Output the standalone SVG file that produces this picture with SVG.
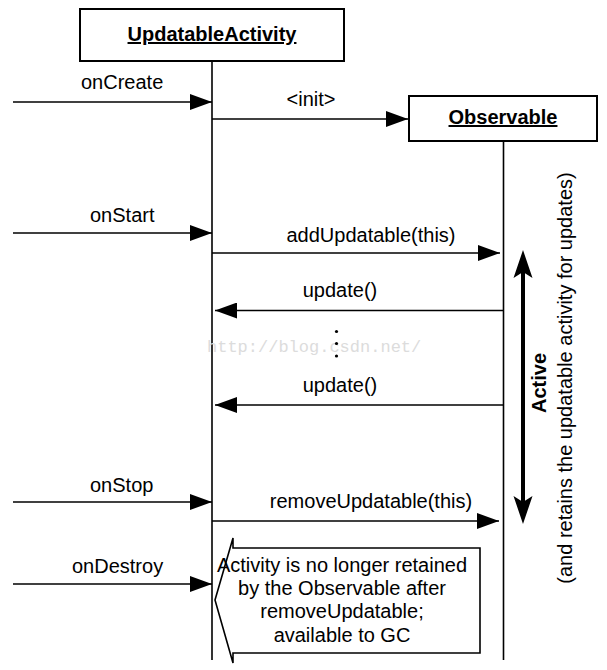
<svg xmlns="http://www.w3.org/2000/svg" width="607" height="670" viewBox="0 0 607 670">
<style>
text{font-family:"Liberation Sans",Arial,sans-serif;font-size:20px;fill:#000}
.t{font-weight:bold;text-decoration:underline}
.c{text-anchor:middle}
.box{fill:#fff;stroke:#000;stroke-width:2}
.life{stroke:#000;stroke-width:1.6;fill:none}
.msg{stroke:#000;stroke-width:1.6;fill:none;marker-end:url(#ah)}
.wm{font-family:"Liberation Mono",monospace;font-size:17px;fill:#dcdcdc}
</style>
<defs>
<marker id="ah" markerUnits="userSpaceOnUse" markerWidth="22" markerHeight="16" refX="22" refY="8" orient="auto">
<path d="M0,0 L22,8 L0,16 Z" fill="#000"/>
</marker>
</defs>
<rect width="607" height="670" fill="#fff"/>
<g id="activity">
<rect class="box" x="80" y="9" width="264" height="52"/>
<text class="t c" x="212" y="41">UpdatableActivity</text>
<line class="life" x1="212" y1="61" x2="212" y2="660"/>
</g>
<g id="observable">
<rect class="box" x="409" y="96" width="188" height="45"/>
<text class="t c" x="503" y="124">Observable</text>
<line class="life" x1="503.5" y1="141" x2="503.5" y2="660"/>
</g>
<text class="wm" x="207" y="352">http://blog.csdn.net/</text>
<g id="connectors">
<line class="msg" x1="13" y1="102" x2="212" y2="102"/>
<line class="msg" x1="212" y1="119" x2="408" y2="119"/>
<line class="msg" x1="13" y1="233" x2="212" y2="233"/>
<line class="msg" x1="212" y1="253" x2="500" y2="253"/>
<line class="msg" x1="503" y1="310.5" x2="215" y2="310.5"/>
<line class="msg" x1="503" y1="405" x2="215" y2="405"/>
<line class="msg" x1="13" y1="502" x2="212" y2="502"/>
<line class="msg" x1="212" y1="521" x2="499" y2="521"/>
<line class="msg" x1="13" y1="584" x2="212" y2="584"/>
</g>
<g id="labels">
<text x="81" y="89">onCreate</text>
<text class="c" x="311" y="106">&lt;init&gt;</text>
<text x="90" y="222">onStart</text>
<text class="c" x="371" y="242">addUpdatable(this)</text>
<text class="c" x="340" y="297">update()</text>
<text class="c" x="340" y="392">update()</text>
<text x="90" y="492">onStop</text>
<text class="c" x="371" y="508">removeUpdatable(this)</text>
<text x="72" y="573">onDestroy</text>
</g>
<g id="dots" fill="#000">
<circle cx="336.5" cy="331.5" r="1.6"/>
<circle cx="336.5" cy="343.5" r="1.6"/>
<circle cx="336.5" cy="356" r="1.6"/>
</g>
<g id="active">
<line x1="523" y1="268" x2="523" y2="506" stroke="#000" stroke-width="4"/>
<path d="M523,250 L532.5,278 L523,272 L513.5,278 Z" fill="#000"/>
<path d="M523,524 L532.5,496 L523,502 L513.5,496 Z" fill="#000"/>
<text class="c" transform="translate(546,383) rotate(-90)" style="font-weight:bold">Active</text>
<text class="c" transform="translate(572,378) rotate(-90)">(and retains the updatable activity for updates)</text>
</g>
<g id="note">
<path d="M480,548 L233,548 L233,538 L215,600 L233,663 L233,653 L480,653 Z" fill="#fff" stroke="#000" stroke-width="1.6"/>
<text class="c" x="342" y="572">Activity is no longer retained</text>
<text class="c" x="342" y="595">by the Observable after</text>
<text class="c" x="342" y="618">removeUpdatable;</text>
<text class="c" x="342" y="642">available to GC</text>
</g>
</svg>
